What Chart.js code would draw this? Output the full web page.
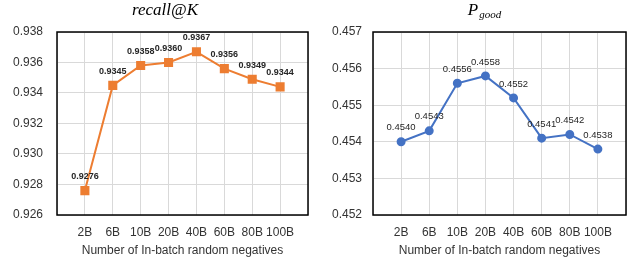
<!DOCTYPE html>
<html>
<head>
<meta charset="utf-8">
<script src="https://cdn.jsdelivr.net/npm/chart.js@4/dist/chart.umd.min.js"></script>
<style>
  body { margin: 0; background: #fff; }
  .wrap { display: flex; width: 636px; height: 264px; }
  canvas { display: block; }
</style>
</head>
<body>
<div class="wrap">
  <canvas id="recallChart" width="318" height="264"></canvas>
  <canvas id="pgoodChart" width="318" height="264"></canvas>
</div>
<script>
const categories = ['2B', '6B', '10B', '20B', '40B', '60B', '80B', '100B'];
const recallValues = [0.9276, 0.9345, 0.9358, 0.9360, 0.9367, 0.9356, 0.9349, 0.9344];
const pgoodValues = [0.4540, 0.4543, 0.4556, 0.4558, 0.4552, 0.4541, 0.4542, 0.4538];
const recallTicks = [0.926, 0.938, 0.002];
const pgoodTicks = [0.452, 0.457, 0.001];
const xTitle = 'Number of In-batch random negatives';

const textColor = '#333333';
const gridColor = '#d9d9d9';

// border round the plot area + value labels above points
const plotExtras = {
  id: 'plotExtras',
  afterDatasetsDraw(chart, args, opts) {
    const ctx = chart.ctx;
    const a = chart.chartArea;
    ctx.save();
    ctx.strokeStyle = '#000';
    ctx.lineWidth = 1.5;
    ctx.strokeRect(a.left, a.top, a.right - a.left, a.bottom - a.top);

    const meta = chart.getDatasetMeta(0);
    const data = chart.data.datasets[0].data;
    ctx.font = opts.labelFont;
    ctx.fillStyle = '#262626';
    ctx.textAlign = 'center';
    ctx.textBaseline = 'middle';
    meta.data.forEach(function (pt, i) {
      ctx.fillText(data[i].y.toFixed(4), pt.x, pt.y - 14);
    });

    // chart title
    ctx.fillStyle = '#000';
    ctx.textBaseline = 'alphabetic';
    if (opts.sub) {
      ctx.font = 'italic 17px "Liberation Serif"';
      const w1 = ctx.measureText(opts.title).width;
      ctx.font = 'italic 11px "Liberation Serif"';
      const w2 = ctx.measureText(opts.sub).width;
      const x0 = opts.titleX - (w1 + w2) / 2;
      ctx.textAlign = 'left';
      ctx.font = 'italic 17px "Liberation Serif"';
      ctx.fillText(opts.title, x0, 15);
      ctx.font = 'italic 11px "Liberation Serif"';
      ctx.fillText(opts.sub, x0 + w1 + 1, 18);
    } else {
      ctx.font = 'italic 17px "Liberation Serif"';
      ctx.textAlign = 'center';
      ctx.fillText(opts.title, opts.titleX, 15);
    }
    ctx.restore();
  }
};

function makeChart(id, values, range, color, style, radius, cfg) {
  const ctx = document.getElementById(id).getContext('2d');
  return new Chart(ctx, {
    type: 'line',
    data: {
      datasets: [{
        data: values.map(function (v, i) { return { x: i + 1, y: v }; }),
        borderColor: color,
        backgroundColor: color,
        borderWidth: 2,
        pointStyle: style,
        pointRadius: radius,
        pointHoverRadius: radius,
        tension: 0
      }]
    },
    options: {
      responsive: false,
      animation: false,
      layout: { padding: { top: 32, right: cfg.padRight, bottom: 0, left: 0 } },
      plugins: {
        legend: { display: false },
        tooltip: { enabled: false },
        plotExtras: cfg.extras
      },
      scales: {
        x: {
          type: 'linear',
          min: 0,
          max: categories.length + 1,
          afterFit: function (s) { s.height = 49; },
          grid: { color: gridColor, drawTicks: false },
          border: { display: false },
          ticks: {
            stepSize: 1,
            padding: 10,
            color: textColor,
            font: { family: 'Liberation Sans', size: 12 },
            autoSkip: false,
            maxRotation: 0,
            callback: function (v) { return categories[v - 1] || ''; }
          },
          title: {
            display: true,
            text: xTitle,
            color: textColor,
            font: { family: 'Liberation Sans', size: 12 },
            padding: { top: 0, bottom: 6 }
          }
        },
        y: {
          min: range[0],
          max: range[1],
          afterFit: function (s) { s.width = cfg.yWidth; },
          grid: { color: gridColor, drawTicks: false },
          border: { display: false },
          ticks: {
            stepSize: range[2],
            padding: cfg.yPad,
            color: textColor,
            font: { family: 'Liberation Sans', size: 12 },
            callback: function (v) { return v.toFixed(3); }
          }
        }
      }
    },
    plugins: [plotExtras]
  });
}

makeChart('recallChart', recallValues, recallTicks, '#ED7D31', 'rect', 5, {
  padRight: 8, yWidth: 57, yPad: 14,
  extras: { labelFont: 'bold 9px "Liberation Sans"', title: 'recall@K', titleX: 165 }
});

makeChart('pgoodChart', pgoodValues, pgoodTicks, '#4472C4', 'circle', 3.5, {
  padRight: 7, yWidth: 55, yPad: 11,
  extras: { labelFont: '9.5px "Liberation Sans"', title: 'P', sub: 'good', titleX: 166 }
});
</script>
</body>
</html>
